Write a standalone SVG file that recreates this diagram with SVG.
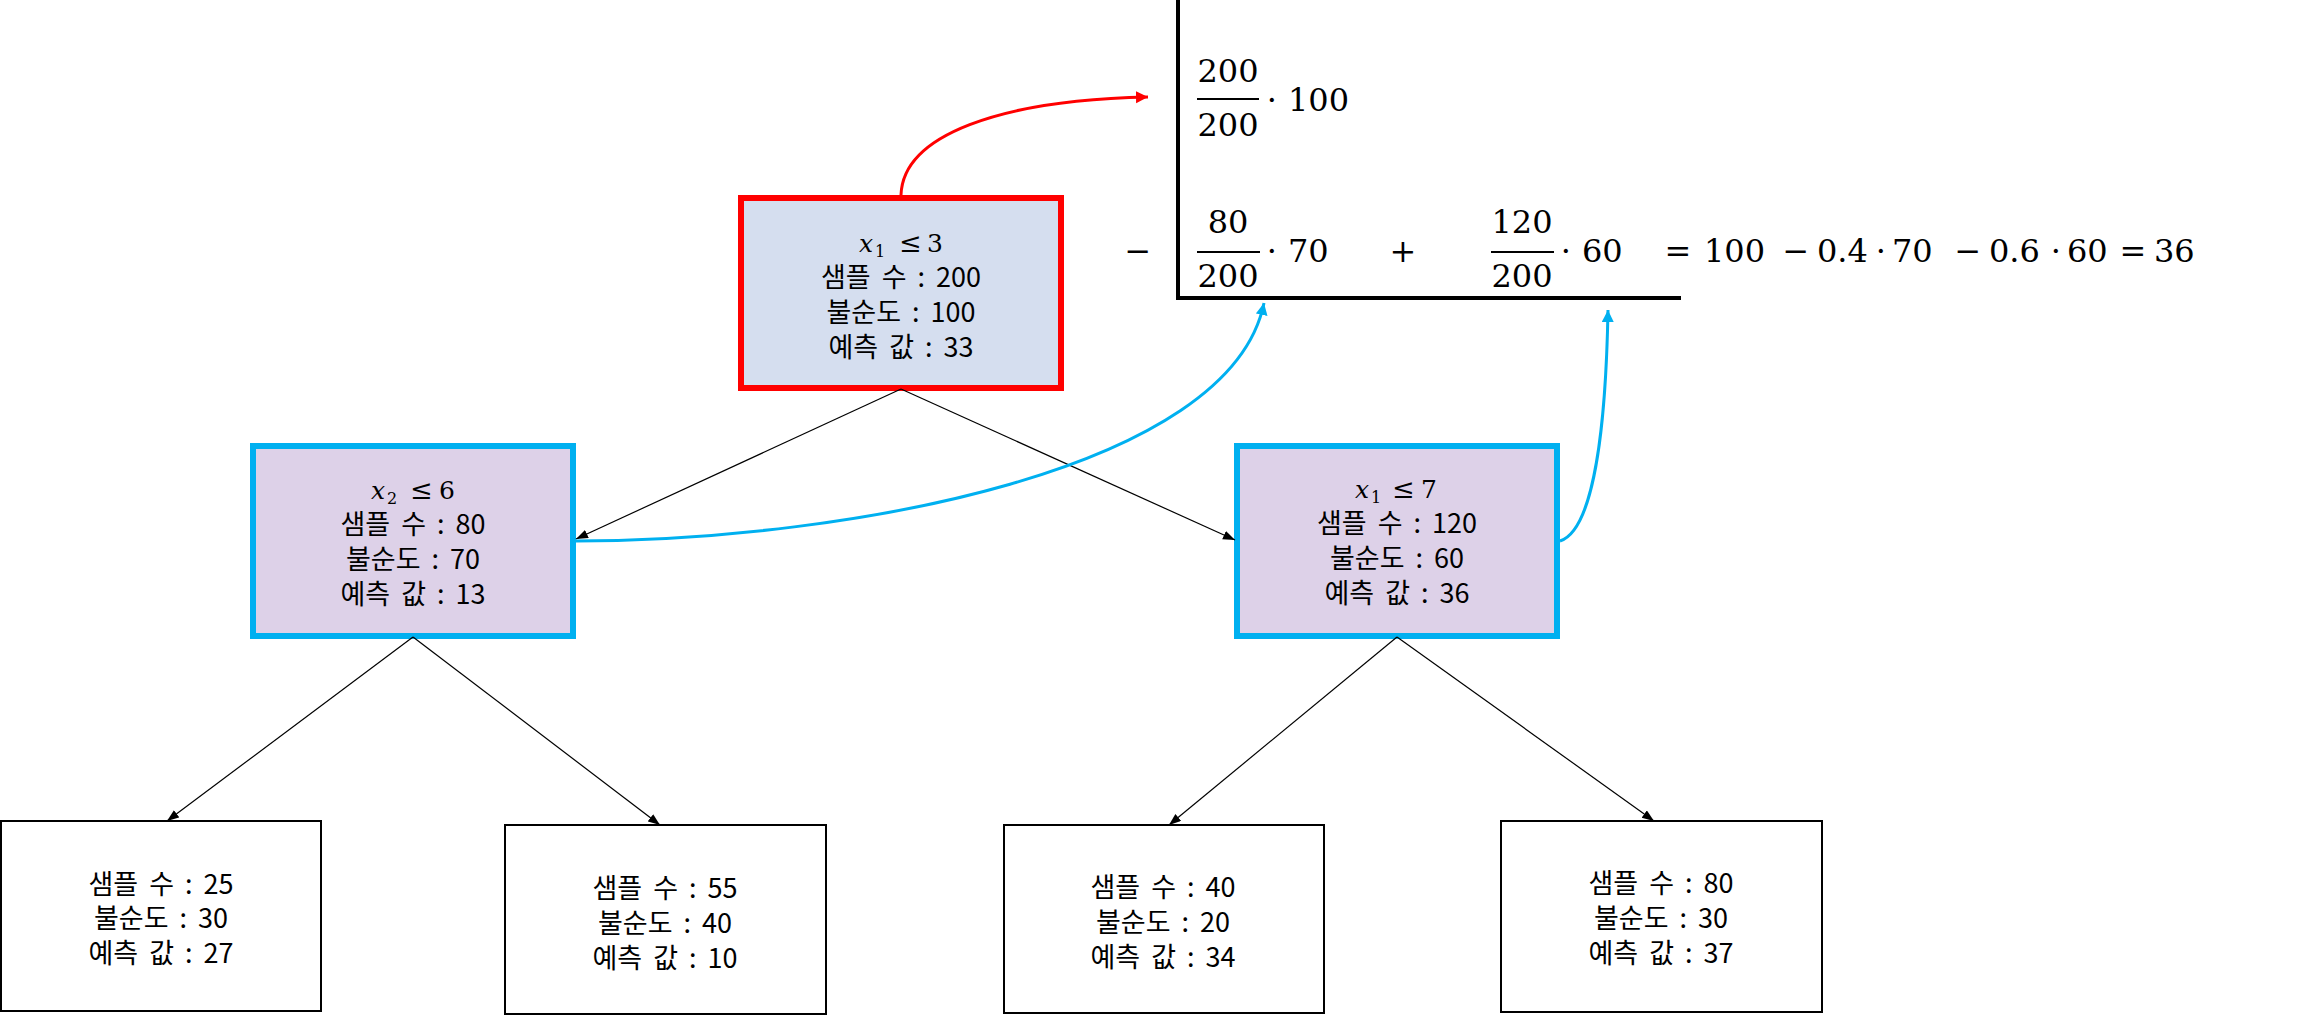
<svg xmlns="http://www.w3.org/2000/svg" width="2298" height="1017" viewBox="0 0 2298 1017">
<style>
.kr{font-family:"Noto Sans CJK KR","Noto Sans",sans-serif;font-size:27px;word-spacing:5px;fill:#000;text-anchor:middle}
.m{font-family:"DejaVu Serif","Liberation Serif",serif;font-size:25px;fill:#000}
.it{font-style:italic}
.sub{font-size:16px}
.le{font-size:27px}
.f{font-family:"DejaVu Serif","Liberation Serif",serif;font-size:32px;fill:#000}
.fc{font-family:"DejaVu Serif","Liberation Serif",serif;font-size:32px;fill:#000;text-anchor:middle}
.leaf{fill:#fff;stroke:#000;stroke-width:2}
.conn{fill:none;stroke:#000;stroke-width:1.2}
</style>
<defs>
<marker id="ab" markerUnits="userSpaceOnUse" markerWidth="12" markerHeight="10" refX="12" refY="4.5" orient="auto"><path d="M0,0 L12,4.5 L0,9 z" fill="#000"/></marker>
<marker id="ar" markerUnits="userSpaceOnUse" markerWidth="13" markerHeight="13" refX="12" refY="6" orient="auto"><path d="M0,0 L12,6 L0,12 z" fill="#FF0000"/></marker>
<marker id="ablue" markerUnits="userSpaceOnUse" markerWidth="13" markerHeight="13" refX="12" refY="6" orient="auto"><path d="M0,0 L12,6 L0,12 z" fill="#00B0F0"/></marker>
</defs>

<g id="formula">
<line x1="1178" y1="0" x2="1178" y2="298" stroke="#000" stroke-width="4"/>
<line x1="1176" y1="298" x2="1681" y2="298" stroke="#000" stroke-width="4"/>
<text class="fc" x="1228" y="82">200</text>
<line x1="1197" y1="99" x2="1259" y2="99" stroke="#000" stroke-width="2"/>
<text class="fc" x="1228" y="136">200</text>
<text class="fc" x="1272" y="111">⋅</text>
<text class="f" x="1288" y="111">100</text>
<text class="fc" x="1138" y="262">−</text>
<text class="fc" x="1228" y="233">80</text>
<line x1="1197" y1="252" x2="1260" y2="252" stroke="#000" stroke-width="2"/>
<text class="fc" x="1228" y="287">200</text>
<text class="fc" x="1272" y="262">⋅</text>
<text class="f" x="1288" y="262">70</text>
<text class="fc" x="1403" y="262">+</text>
<text class="fc" x="1522" y="233">120</text>
<line x1="1491" y1="252" x2="1554" y2="252" stroke="#000" stroke-width="2"/>
<text class="fc" x="1522" y="287">200</text>
<text class="fc" x="1566" y="262">⋅</text>
<text class="f" x="1582" y="262">60</text>
<text class="fc" x="1678" y="262">=</text>
<text class="f" x="1704" y="262">100</text>
<text class="fc" x="1796" y="262">−</text>
<text class="f" x="1817" y="262">0.4</text>
<text class="fc" x="1881" y="262">⋅</text>
<text class="f" x="1892" y="262">70</text>
<text class="fc" x="1968" y="262">−</text>
<text class="f" x="1989" y="262">0.6</text>
<text class="fc" x="2056" y="262">⋅</text>
<text class="f" x="2067" y="262">60</text>
<text class="fc" x="2133" y="262">=</text>
<text class="f" x="2154" y="262">36</text>
</g>

<g id="root">
<rect x="741" y="198" width="320" height="190" fill="#D5DEEF" stroke="#FF0000" stroke-width="6"/>
<text class="m" x="859" y="252"><tspan class="it">x</tspan><tspan class="sub" x="875" dy="5">1</tspan><tspan class="le" x="899" dy="-5">≤</tspan><tspan x="927">3</tspan></text>
<text class="kr" x="901" y="287">샘플 수 : 200</text>
<text class="kr" x="901" y="322">불순도 : 100</text>
<text class="kr" x="901" y="357">예측 값 : 33</text>
</g>

<g id="mid-left">
<rect x="253" y="446" width="320" height="190" fill="#DDD1E8" stroke="#00B0F0" stroke-width="6"/>
<text class="m" x="371" y="499"><tspan class="it">x</tspan><tspan class="sub" x="387" dy="5">2</tspan><tspan class="le" x="410" dy="-5">≤</tspan><tspan x="439">6</tspan></text>
<text class="kr" x="413" y="534">샘플 수 : 80</text>
<text class="kr" x="413" y="569">불순도 : 70</text>
<text class="kr" x="413" y="604">예측 값 : 13</text>
</g>

<g id="mid-right">
<rect x="1237" y="446" width="320" height="190" fill="#DDD1E8" stroke="#00B0F0" stroke-width="6"/>
<text class="m" x="1355" y="498"><tspan class="it">x</tspan><tspan class="sub" x="1371" dy="5">1</tspan><tspan class="le" x="1392" dy="-5">≤</tspan><tspan x="1421">7</tspan></text>
<text class="kr" x="1397" y="533">샘플 수 : 120</text>
<text class="kr" x="1397" y="568">불순도 : 60</text>
<text class="kr" x="1397" y="603">예측 값 : 36</text>
</g>

<g id="leaf-1">
<rect class="leaf" x="1" y="821" width="320" height="190"/>
<text class="kr" x="161" y="894">샘플 수 : 25</text>
<text class="kr" x="161" y="928">불순도 : 30</text>
<text class="kr" x="161" y="963">예측 값 : 27</text>
</g>

<g id="leaf-2">
<rect class="leaf" x="505" y="825" width="321" height="189"/>
<text class="kr" x="665" y="898">샘플 수 : 55</text>
<text class="kr" x="665" y="933">불순도 : 40</text>
<text class="kr" x="665" y="968">예측 값 : 10</text>
</g>

<g id="leaf-3">
<rect class="leaf" x="1004" y="825" width="320" height="188"/>
<text class="kr" x="1163" y="897">샘플 수 : 40</text>
<text class="kr" x="1163" y="932">불순도 : 20</text>
<text class="kr" x="1163" y="967">예측 값 : 34</text>
</g>

<g id="leaf-4">
<rect class="leaf" x="1501" y="821" width="321" height="191"/>
<text class="kr" x="1661" y="893">샘플 수 : 80</text>
<text class="kr" x="1661" y="928">불순도 : 30</text>
<text class="kr" x="1661" y="963">예측 값 : 37</text>
</g>

<g id="connectors">
<path class="conn" d="M901,389 L576,539" marker-end="url(#ab)"/>
<path class="conn" d="M901,389 L1235,540" marker-end="url(#ab)"/>
<path class="conn" d="M413,637 L167,821" marker-end="url(#ab)"/>
<path class="conn" d="M413,637 L660,825" marker-end="url(#ab)"/>
<path class="conn" d="M1397,637 L1169,825" marker-end="url(#ab)"/>
<path class="conn" d="M1397,637 L1654,821" marker-end="url(#ab)"/>
<path d="M901,195 C903,135 1000,100 1148,97" fill="none" stroke="#FF0000" stroke-width="3" marker-end="url(#ar)"/>
<path d="M576,541 C850,540 1230,470 1264,303" fill="none" stroke="#00B0F0" stroke-width="3" marker-end="url(#ablue)"/>
<path d="M1560,541 C1595,530 1606,420 1608,310" fill="none" stroke="#00B0F0" stroke-width="3" marker-end="url(#ablue)"/>
</g>
</svg>
